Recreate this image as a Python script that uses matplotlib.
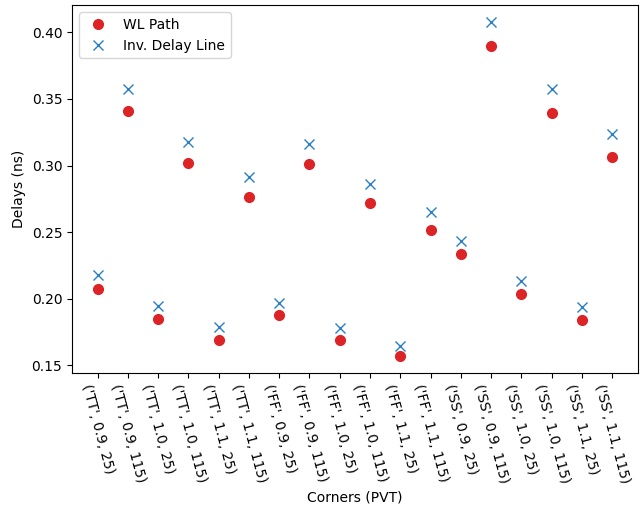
import matplotlib
matplotlib.use('Agg')
import matplotlib.pyplot as plt

corners = [('TT', 0.9, 25), ('TT', 0.9, 115), ('TT', 1.0, 25), ('TT', 1.0, 115),
           ('TT', 1.1, 25), ('TT', 1.1, 115), ('FF', 0.9, 25), ('FF', 0.9, 115),
           ('FF', 1.0, 25), ('FF', 1.0, 115), ('FF', 1.1, 25), ('FF', 1.1, 115),
           ('SS', 0.9, 25), ('SS', 0.9, 115), ('SS', 1.0, 25), ('SS', 1.0, 115),
           ('SS', 1.1, 25), ('SS', 1.1, 115)]

wl_path = [0.2074, 0.3409, 0.1844, 0.3017, 0.1688, 0.2762, 0.1874, 0.3012, 0.1692,
           0.2717, 0.1568, 0.2516, 0.2333, 0.3898, 0.2034, 0.3394, 0.1836, 0.3067]
delay_line = [0.2177, 0.3576, 0.1944, 0.3180, 0.1784, 0.2914, 0.1964, 0.3165, 0.1776,
              0.2859, 0.1645, 0.2649, 0.2435, 0.4080, 0.2132, 0.3576, 0.1936, 0.3240]

labels = [str(c) for c in corners]
x = list(range(len(corners)))

fig = plt.figure(figsize=(6.4, 5.08), dpi=100)
ax = fig.add_axes([0.1125, 0.266, 0.884, 0.724])

ax.plot(x, wl_path, 'o', color='#dc2326', markersize=7, label='WL Path')
ax.plot(x, delay_line, 'x', color='#2a7fc6', markersize=6.5, label='Inv. Delay Line')

ax.set_xticks(x)
ax.set_xticklabels(labels, rotation=-75)
ax.set_xlabel('Corners (PVT)')
ax.set_ylabel('Delays (ns)')
ax.legend(loc='upper left')

fig.savefig('out.png', dpi=100)
